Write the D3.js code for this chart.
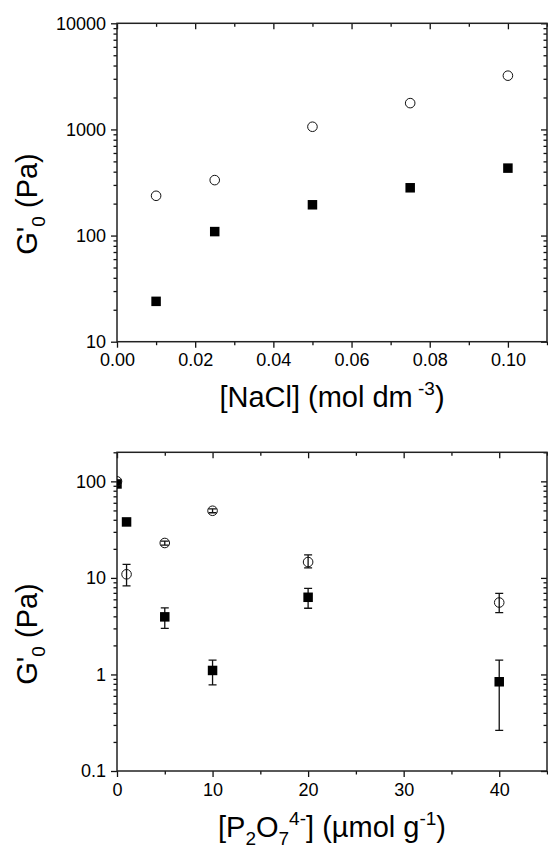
<!DOCTYPE html>
<html>
<head>
<meta charset="utf-8">
<script src="https://cdn.jsdelivr.net/npm/d3@7"></script>
<style>
  body { margin: 0; background: #fff; }
  text { font-family: "Liberation Sans", Arial, sans-serif; fill: #000; }
</style>
</head>
<body>
<svg id="chart" width="548" height="848"></svg>
<script>
// top panel: G'0 against [NaCl]
var naclConc = [0.01, 0.025, 0.05, 0.075, 0.10]
var naclFilled = [24, 109, 195, 282, 432]
var naclOpen = [237, 333, 1060, 1770, 3210]
var naclXTicks = [0, 0.02, 0.04, 0.06, 0.08, 0.10]
var naclXMinor = [0.01, 0.03, 0.05, 0.07, 0.09, 0.11]
var naclYTicks = [10, 100, 1000, 10000]

// bottom panel: G'0 against [P2O7 4-]
var pyroConc = [0, 1, 5, 10, 20, 40]
var pyroFilled = [94, 38, 3.95, 1.1, 6.3, 0.84]
var pyroFilledLo = [null, null, 3.0, 0.78, 4.85, 0.263]
var pyroFilledHi = [null, null, 4.9, 1.41, 7.8, 1.41]
var pyroOpen = [100, 10.9, 23, 49.6, 14.6, 5.56]
var pyroOpenLo = [null, 8.26, 21.9, 47.3, 12.7, 4.37]
var pyroOpenHi = [null, 13.8, 24.1, 52.0, 17.3, 6.9]
var pyroXTicks = [0, 10, 20, 30, 40]
var pyroXMinor = [5, 15, 25, 35, 45]
var pyroYTicks = [0.1, 1, 10, 100]

var svg = d3.select("#chart")

var left = 117
var right = 547

function isDecade(v) {
    var l = Math.log10(v)
    return Math.abs(l - Math.round(l)) < 1e-6
}

function styleAxis(g) {
    g.select(".domain").remove()
    g.selectAll(".tick line").attr("stroke", "#111").attr("stroke-width", 1.3)
    g.selectAll(".tick text").style("font-size", "18px").attr("fill", "#000")
}

function drawPanel(cfg) {
    var g = svg.append("g")

    var x = d3.scaleLinear().domain(cfg.xDomain).range([left, right])
    var y = d3.scaleLog().domain(cfg.yDomain).range([cfg.bottom, cfg.top])

    var yMinor = y.ticks().filter(v => !isDecade(v))

    // bottom + left axes, ticks out
    g.append("g")
        .attr("transform", `translate(0,${cfg.bottom})`)
        .call(d3.axisBottom(x).tickValues(cfg.xMinor).tickSize(3.5).tickFormat(""))
        .call(styleAxis)
    g.append("g")
        .attr("transform", `translate(0,${cfg.bottom})`)
        .call(d3.axisBottom(x).tickValues(cfg.xTicks).tickSize(6).tickPadding(6).tickFormat(cfg.xFormat))
        .call(styleAxis)
    g.append("g")
        .attr("transform", `translate(${left},0)`)
        .call(d3.axisLeft(y).tickValues(yMinor).tickSize(3.5).tickFormat(""))
        .call(styleAxis)
    g.append("g")
        .attr("transform", `translate(${left},0)`)
        .call(d3.axisLeft(y).tickValues(cfg.yTicks).tickSize(6).tickPadding(5).tickFormat(cfg.yFormat))
        .call(styleAxis)

    // top + right mirror axes, ticks in
    g.append("g")
        .attr("transform", `translate(0,${cfg.top})`)
        .call(d3.axisTop(x).tickValues(cfg.xMinor).tickSize(-3.5).tickFormat(""))
        .call(styleAxis)
    g.append("g")
        .attr("transform", `translate(0,${cfg.top})`)
        .call(d3.axisTop(x).tickValues(cfg.xTicks).tickSize(-6).tickFormat(""))
        .call(styleAxis)
    g.append("g")
        .attr("transform", `translate(${right},0)`)
        .call(d3.axisRight(y).tickValues(yMinor).tickSize(-3.5).tickFormat(""))
        .call(styleAxis)
    g.append("g")
        .attr("transform", `translate(${right},0)`)
        .call(d3.axisRight(y).tickValues(cfg.yTicks).tickSize(-6).tickFormat(""))
        .call(styleAxis)

    g.append("rect")
        .attr("x", left)
        .attr("y", cfg.top)
        .attr("width", right - left)
        .attr("height", cfg.bottom - cfg.top)
        .attr("fill", "none")
        .attr("stroke", "#222")
        .attr("stroke-width", 1.5)

    g.append("clipPath")
        .attr("id", cfg.id)
        .append("rect")
        .attr("x", left)
        .attr("y", cfg.top)
        .attr("width", right - left)
        .attr("height", cfg.bottom - cfg.top)

    var plot = g.append("g").attr("clip-path", `url(#${cfg.id})`)

    // error bars
    cfg.series.forEach(function(s) {
        if (!s.lo) return
        var bars = cfg.xs.map((v, i) => ({x: v, lo: s.lo[i], hi: s.hi[i]})).filter(d => d.lo != null)
        plot.selectAll(null)
            .data(bars)
            .join("path")
            .attr("d", d => {
                var cx = x(d.x), y0 = y(d.lo), y1 = y(d.hi)
                return `M${cx},${y0}V${y1}M${cx-4},${y0}H${cx+4}M${cx-4},${y1}H${cx+4}`
            })
            .attr("stroke", "#111")
            .attr("stroke-width", 1.3)
            .attr("fill", "none")
    })

    var pts = cfg.series.map(s => cfg.xs.map((v, i) => ({x: v, y: s.ys[i]})))

    plot.selectAll(null)
        .data(pts[0])
        .join("rect")
        .attr("x", d => x(d.x) - 4.75)
        .attr("y", d => y(d.y) - 4.75)
        .attr("width", 9.5)
        .attr("height", 9.5)
        .attr("fill", "#000")

    plot.selectAll(null)
        .data(pts[1])
        .join("circle")
        .attr("cx", d => x(d.x))
        .attr("cy", d => y(d.y))
        .attr("r", 4.8)
        .attr("fill", "none")
        .attr("stroke", "#111")
        .attr("stroke-width", 1)

    return g
}

drawPanel({
    id: "clipTop",
    top: 23.3,
    bottom: 341.7,
    xDomain: [0, 0.11],
    yDomain: [10, 10000],
    xTicks: naclXTicks,
    xMinor: naclXMinor,
    yTicks: naclYTicks,
    xFormat: d3.format(".2f"),
    yFormat: d3.format("d"),
    xs: naclConc,
    series: [{ys: naclFilled}, {ys: naclOpen}]
})

drawPanel({
    id: "clipBottom",
    top: 452.3,
    bottom: 771,
    xDomain: [0, 45],
    yDomain: [0.1, 200],
    xTicks: pyroXTicks,
    xMinor: pyroXMinor,
    yTicks: pyroYTicks,
    xFormat: d3.format("d"),
    yFormat: d => d < 1 ? "0.1" : d3.format("d")(d),
    xs: pyroConc,
    series: [
        {ys: pyroFilled, lo: pyroFilledLo, hi: pyroFilledHi},
        {ys: pyroOpen, lo: pyroOpenLo, hi: pyroOpenHi}
    ]
})

// axis titles
function yTitle(cy) {
    var t = svg.append("text")
        .attr("text-anchor", "middle")
        .attr("transform", `translate(37,${cy}) rotate(-90)`)
        .style("font-size", "29px")
    t.append("tspan").text("G'")
    t.append("tspan").text("0").style("font-size", "19px").attr("dy", 8)
    t.append("tspan").text(" (Pa)").attr("dy", -8)
}
yTitle(204)
yTitle(634)

var xt1 = svg.append("text")
    .attr("text-anchor", "middle")
    .attr("x", 332)
    .attr("y", 407)
    .style("font-size", "29px")
xt1.append("tspan").text("[NaCl] (mol dm")
xt1.append("tspan").text(" -3").style("font-size", "19px").attr("dy", -12)
xt1.append("tspan").text(")").attr("dy", 12)

var xt2 = svg.append("text")
    .attr("text-anchor", "middle")
    .attr("x", 332)
    .attr("y", 837)
    .style("font-size", "29px")
xt2.append("tspan").text("[P")
xt2.append("tspan").text("2").style("font-size", "19px").attr("dy", 8)
xt2.append("tspan").text("O").attr("dy", -8)
xt2.append("tspan").text("7").style("font-size", "19px").attr("dy", 8)
xt2.append("tspan").text("4-").style("font-size", "19px").attr("dy", -20)
xt2.append("tspan").text("] (\u00b5mol g").attr("dy", 12)
xt2.append("tspan").text("-1").style("font-size", "19px").attr("dy", -12)
xt2.append("tspan").text(")").attr("dy", 12)
</script>
</body>
</html>
